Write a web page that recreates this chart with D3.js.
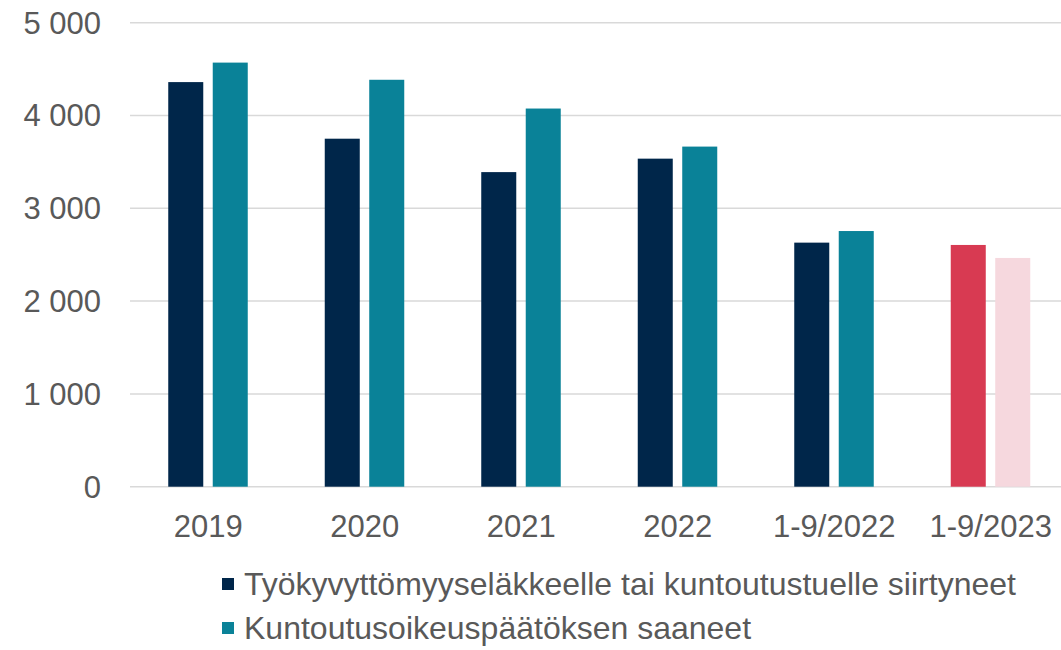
<!DOCTYPE html>
<html>
<head>
<meta charset="utf-8">
<script src="https://cdn.jsdelivr.net/npm/d3@7"></script>
<style>
  body { margin: 0; background: #fff; }
  svg { display: block; font-family: "Liberation Sans", Arial, sans-serif; }
</style>
</head>
<body>
<svg class="chart"></svg>
<script>
const categories = ["2019", "2020", "2021", "2022", "1-9/2022", "1-9/2023"]
const seriesNames = [
    "Työkyvyttömyyseläkkeelle tai kuntoutustuelle siirtyneet",
    "Kuntoutusoikeuspäätöksen saaneet"
]
const siirtyneet = [4360, 3750, 3390, 3535, 2630, 2605]
const saaneet = [4570, 4385, 4075, 3665, 2755, 2465]
const yTicks = [0, 1000, 2000, 3000, 4000, 5000]

const width = 1061
const height = 650

const svg = d3.select("svg.chart")
    .attr("width", width)
    .attr("height", height)

const x = d3.scaleBand()
    .domain(categories)
    .range([130, 1069])

// two bars per category, 35px wide with a gap between
const xInner = d3.scaleBand()
    .domain([0, 1])
    .range([x.bandwidth() / 2 - 40, x.bandwidth() / 2 + 39.5])
    .paddingInner(0.213)

const y = d3.scaleLinear()
    .domain([0, 5000])
    .range([486.7, 22.7])

// last category is highlighted
const colors = [
    ["#00264a", "#00264a", "#00264a", "#00264a", "#00264a", "#d83a52"],
    ["#0a8298", "#0a8298", "#0a8298", "#0a8298", "#0a8298", "#f6d8de"]
]

// gridlines
svg.append("g")
    .selectAll("line")
    .data(yTicks)
    .enter()
    .append("line")
    .attr("x1", 130)
    .attr("x2", width)
    .attr("y1", d => y(d))
    .attr("y2", d => y(d))
    .attr("stroke", "#d9d9d9")
    .attr("stroke-width", 1.5)

// y labels
const fmt = d => d3.format(",")(d).replace(/,/g, " ")
svg.append("g")
    .selectAll("text")
    .data(yTicks)
    .enter()
    .append("text")
    .attr("x", 101)
    .attr("y", d => y(d))
    .attr("dy", "0.35em")
    .attr("text-anchor", "end")
    .attr("fill", "#595959")
    .style("font-size", "31px")
    .text(fmt)

// bars
const groups = svg.append("g")
    .selectAll("g")
    .data(categories)
    .enter()
    .append("g")
    .attr("transform", d => `translate(${x(d)},0)`)

groups.selectAll("rect")
    .data((d, i) => [siirtyneet[i], saaneet[i]].map((v, s) => ({v, s, i})))
    .enter()
    .append("rect")
    .attr("x", d => xInner(d.s))
    .attr("width", xInner.bandwidth())
    .attr("y", d => y(d.v))
    .attr("height", d => y(0) - y(d.v))
    .attr("fill", d => colors[d.s][d.i])

// x labels
svg.append("g")
    .selectAll("text")
    .data(categories)
    .enter()
    .append("text")
    .attr("x", d => x(d) + x.bandwidth() / 2)
    .attr("y", 536.7)
    .attr("text-anchor", "middle")
    .attr("fill", "#595959")
    .style("font-size", "31px")
    .text(d => d)

// legend
const legend = svg.append("g")
    .attr("transform", "translate(222, 578)")

legend.selectAll("rect")
    .data(seriesNames)
    .enter()
    .append("rect")
    .attr("x", 0)
    .attr("y", (d, i) => i * 44)
    .attr("width", 12)
    .attr("height", 12)
    .attr("fill", (d, i) => colors[i][0])

legend.selectAll("text")
    .data(seriesNames)
    .enter()
    .append("text")
    .attr("x", 22)
    .attr("y", (d, i) => i * 44 + 6)
    .attr("dy", "0.35em")
    .attr("fill", "#595959")
    .style("font-size", "32px")
    .text(d => d)
</script>
</body>
</html>
